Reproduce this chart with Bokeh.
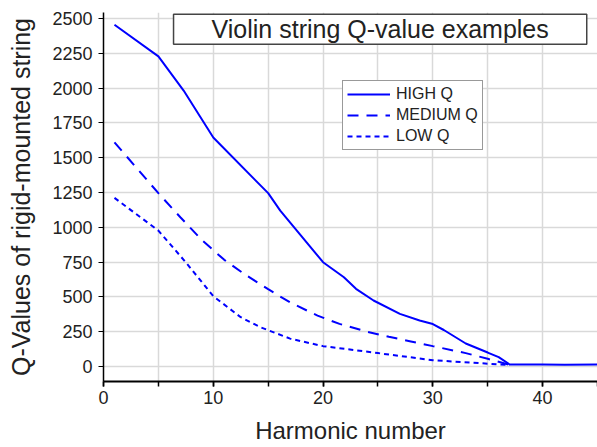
from bokeh.plotting import figure
from bokeh.models import Range1d, SingleIntervalTicker, Label, Legend, LegendItem
from bokeh.embed import file_html
from bokeh.resources import INLINE

# Data
high_x = [1, 5, 7.3, 10, 15, 16.1, 20, 21.9, 23, 24.6, 27, 28.8, 30, 31, 33, 35, 36, 37, 40, 42, 45]
high_y = [2455, 2228, 1982, 1645, 1245, 1120, 749, 641, 558, 474, 378, 330, 305, 262, 165, 100, 67, 14, 15, 13, 14]

med_x = [1, 5, 7, 9, 11, 13, 15, 17, 19.5, 21.5, 24, 26, 28, 30, 33, 35, 37]
med_y = [1610, 1245, 1072, 905, 766, 655, 555, 460, 365, 306, 250, 213, 180, 146, 96, 55, 12]

low_x = [1, 5, 7.5, 10, 12.5, 14.3, 17, 20, 25, 30, 35, 37]
low_y = [1211, 976, 748, 505, 354, 282, 200, 146, 96, 45, 20, 10]

series_names = ["HIGH Q", "MEDIUM Q", "LOW Q"]
title_text = "Violin string Q-value examples"
x_label = "Harmonic number"
y_label = "Q-Values of rigid-mounted string"

FONT = "Liberation Sans"
BLUE = "#0000ff"

p = figure(width=597, height=447, output_backend="svg", toolbar_location=None,
           x_range=Range1d(0, 45), y_range=Range1d(-108, 2543),
           min_border_left=103, min_border_right=0, min_border_top=12, min_border_bottom=66)
p.outline_line_color = None
p.background_fill_color = "white"
p.border_fill_color = "white"

# axes
p.xaxis.ticker = SingleIntervalTicker(interval=10, num_minor_ticks=2)
p.yaxis.ticker = SingleIntervalTicker(interval=250, num_minor_ticks=0)
for ax in (p.xaxis[0], p.yaxis[0]):
    ax.axis_line_color = "black"
    ax.major_tick_line_color = "black"
    ax.minor_tick_line_color = "black"
    ax.major_tick_in = 0
    ax.minor_tick_in = 0
    ax.major_label_text_font = FONT
    ax.major_label_text_font_size = "18px"
    ax.major_label_text_color = "#222222"
    ax.axis_label_text_font = FONT
    ax.axis_label_text_font_style = "normal"
    ax.axis_label_text_color = "#222222"
p.xaxis.axis_line_width = 2
p.xaxis.major_tick_line_width = 1.5
p.xaxis.minor_tick_line_width = 1.5
p.xaxis.major_tick_out = 5
p.xaxis.minor_tick_out = 5
p.xaxis.major_label_standoff = 4
p.xaxis.axis_label = x_label
p.xaxis.axis_label_text_font_size = "24px"
p.xaxis.axis_label_standoff = 10
p.yaxis.axis_line_width = 1.5
p.yaxis.major_tick_line_width = 1.2
p.yaxis.major_tick_out = 5
p.yaxis.minor_tick_out = 0
p.yaxis.major_label_standoff = 6
p.yaxis.axis_label = y_label
p.yaxis.axis_label_text_font_size = "25px"
p.yaxis.axis_label_standoff = 14

# grid
p.xgrid.ticker = SingleIntervalTicker(interval=5)
p.ygrid.ticker = SingleIntervalTicker(interval=250)
p.xgrid.grid_line_color = "#d9d9d9"
p.ygrid.grid_line_color = "#d9d9d9"
p.xgrid.grid_line_width = 1.5
p.ygrid.grid_line_width = 1.5

r_high = p.line(high_x, high_y, line_color=BLUE, line_width=2)
r_med = p.line(med_x, med_y, line_color=BLUE, line_width=2, line_dash="11 8")
r_low = p.line(low_x, low_y, line_color=BLUE, line_width=2, line_dash="5 4")

legend = Legend(items=[LegendItem(label=series_names[0], renderers=[r_high]),
                       LegendItem(label=series_names[1], renderers=[r_med]),
                       LegendItem(label=series_names[2], renderers=[r_low])],
                location=(239, 231), orientation="vertical",
                label_text_font=FONT, label_text_font_size="16px", label_text_color="#222222",
                glyph_width=43, glyph_height=16, label_height=16, label_standoff=6,
                spacing=3, padding=4, margin=0,
                border_line_color="#333333", border_line_width=1,
                background_fill_color="white", background_fill_alpha=1.0)
p.add_layout(legend)

title = Label(x=25.2, y=2422, text=title_text, text_align="center", text_baseline="middle",
              text_font=FONT, text_font_size="25px", text_color="#222222",
              border_line_color="#444444", border_line_width=1.5,
              background_fill_color="white", background_fill_alpha=1.0,
              padding=(38, 38, 1, 1))
p.add_layout(title)

open("out.html", "w").write(file_html(p, INLINE))
